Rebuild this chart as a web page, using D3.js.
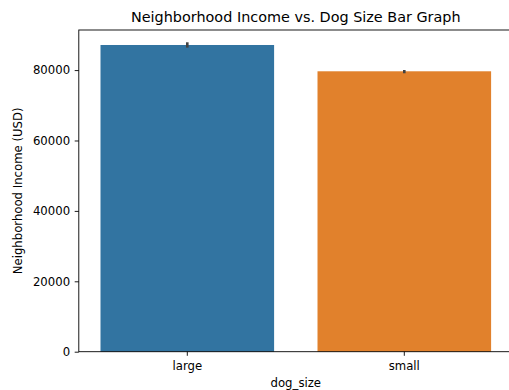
<!DOCTYPE html>
<html>
<head>
<meta charset="utf-8">
<script src="https://cdn.jsdelivr.net/npm/d3@7"></script>
<style>
  html, body { margin: 0; padding: 0; background: #fff; }
  svg { display: block; font-family: "DejaVu Sans", sans-serif; }
</style>
</head>
<body>
<svg id="chart" width="509" height="390"></svg>
<script>
// Mean neighborhood income by dog size, with confidence intervals
const categories = ["large", "small"];
const meanIncome = [87130, 79660];
const ciLow = [86380, 79100];
const ciHigh = [87900, 80030];
const yTicks = [0, 20000, 40000, 60000, 80000];
const barColors = ["#3274a1", "#e1812c"];

const svg = d3.select("#chart");
const margin = { left: 78.8, right: 512.8, top: 30, bottom: 351.7 };
const fontSize = 11.7;

const x = d3.scaleBand()
  .domain(categories)
  .range([margin.left, margin.right])
  .paddingInner(0.2)
  .paddingOuter(0.1);

const y = d3.scaleLinear()
  .domain([0, 91390])
  .range([margin.bottom, margin.top]);

// bars
svg.selectAll("rect.bar")
  .data(categories)
  .enter().append("rect")
  .attr("class", "bar")
  .attr("x", d => x(d))
  .attr("width", x.bandwidth())
  .attr("y", (d, i) => y(meanIncome[i]))
  .attr("height", (d, i) => y(0) - y(meanIncome[i]))
  .attr("fill", (d, i) => barColors[i]);

// error bars
svg.selectAll("line.err")
  .data(categories)
  .enter().append("line")
  .attr("class", "err")
  .attr("x1", d => x(d) + x.bandwidth() / 2)
  .attr("x2", d => x(d) + x.bandwidth() / 2)
  .attr("y1", (d, i) => y(ciLow[i]))
  .attr("y2", (d, i) => y(ciHigh[i]))
  .attr("stroke", "#424242")
  .attr("stroke-width", 2.6);

// axes
const tickLen = 4.1;
const yAxis = d3.axisLeft(y).tickValues(yTicks).tickFormat(d3.format("d"))
  .tickSize(tickLen).tickPadding(4.6);
const xAxis = d3.axisBottom(x).tickSize(tickLen).tickPadding(5.8);

const gy = svg.append("g")
  .attr("transform", `translate(${margin.left},0)`)
  .call(yAxis);
const gx = svg.append("g")
  .attr("transform", `translate(0,${margin.bottom})`)
  .call(xAxis);

[gx, gy].forEach(g => {
  g.select(".domain").remove();
  g.selectAll("line").attr("stroke", "#000").attr("stroke-width", 0.9);
  g.selectAll("text")
    .attr("fill", "#000")
    .style("font-size", fontSize + "px")
    .style("font-family", "DejaVu Sans, sans-serif");
});

// frame
svg.append("rect")
  .attr("x", margin.left)
  .attr("y", margin.top)
  .attr("width", margin.right - margin.left)
  .attr("height", margin.bottom - margin.top)
  .attr("fill", "none")
  .attr("stroke", "#000")
  .attr("stroke-width", 0.9);

// labels
const cx = (margin.left + margin.right) / 2;
svg.append("text")
  .attr("x", cx)
  .attr("y", 21.5)
  .attr("text-anchor", "middle")
  .style("font-size", "14.4px")
  .text("Neighborhood Income vs. Dog Size Bar Graph");

svg.append("text")
  .attr("x", cx)
  .attr("y", 386.7)
  .attr("text-anchor", "middle")
  .style("font-size", fontSize + "px")
  .text("dog_size");

svg.append("text")
  .attr("transform", `translate(21.6,${(margin.top + margin.bottom) / 2}) rotate(-90)`)
  .attr("text-anchor", "middle")
  .style("font-size", fontSize + "px")
  .text("Neighborhood Income (USD)");
</script>
</body>
</html>
